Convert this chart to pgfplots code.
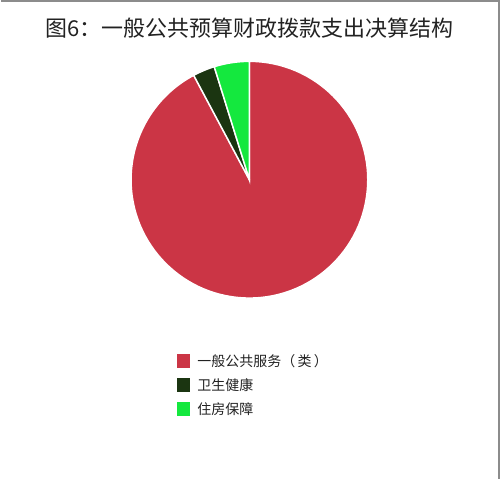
\documentclass[border=0pt]{standalone}
\usepackage{pgfplots}
\pgfplotsset{compat=1.18}
\usepackage{pgfplotstable}
\usepackage{fontspec}
\setmainfont{Noto Sans CJK SC}
\definecolor{cRed}{HTML}{CB3545}
\definecolor{cDark}{HTML}{1B3511}
\definecolor{cGreen}{HTML}{14E83E}
\definecolor{txt}{HTML}{222222}

% shares in percent, clockwise from 12 o'clock
\pgfplotstableread{
value color
92.2  cRed
3.0   cDark
4.8   cGreen
}\piedata

\pgfplotsset{
  sq/.style={legend image code/.code={
    \path[draw=none, fill=#1] (0pt,-5.25pt) rectangle (10.5pt,5.25pt);
    \path[draw=none, fill=none] (0pt,0pt) -- (15.75pt,0pt);}},
}

\begin{document}
\begin{tikzpicture}
\begin{axis}[
  width=375pt, height=360pt, scale only axis,
  xmin=0, xmax=500, ymin=0, ymax=480,
  hide axis, clip=false,
  legend cell align=left,
  legend style={draw=none, fill=none, at={(axis cs:176,125)}, anchor=north west,
    inner sep=0pt, outer sep=0pt, row sep=7.5pt, text=txt,
    font=\fontsize{10.5pt}{12pt}\selectfont,
    nodes={inner sep=0pt}},
]
\path (axis cs:0,0) rectangle (axis cs:500,480);
\pgfplotsextra{
  \pgfplotstablegetrowsof{\piedata}
  \pgfmathtruncatemacro{\nrows}{\pgfplotsretval-1}
  \xdef\startang{90}
  \foreach \i in {0,...,\nrows}{
    \pgfplotstablegetelem{\i}{value}\of{\piedata}
    \pgfmathsetmacro{\sweep}{3.6*\pgfplotsretval}
    \pgfplotstablegetelem{\i}{color}\of{\piedata}
    \edef\col{\pgfplotsretval}
    \pgfmathsetmacro{\endang}{\startang-\sweep}
    \fill[\col, draw=white, line width=1.1pt] (axis cs:249,300) -- ++(\startang:88.9pt)
      arc[start angle=\startang, end angle=\endang, radius=88.9pt] -- cycle;
    \xdef\startang{\endang}
  }
}
\addlegendimage{sq=cRed}
\addlegendentry{一般公共服务（\,类\,）}
\addlegendimage{sq=cDark}
\addlegendentry{卫生健康}
\addlegendimage{sq=cGreen}
\addlegendentry{住房保障}
\node[text=txt, font=\fontsize{16.5pt}{20pt}\selectfont] at (axis cs:249,452) {图6：一般公共预算财政拨款支出决算结构};
\draw[gray!90, line width=1.2pt] (axis cs:0,479.2) -- (axis cs:499,479.2) -- (axis cs:499,0);
\end{axis}
\end{tikzpicture}
\end{document}
